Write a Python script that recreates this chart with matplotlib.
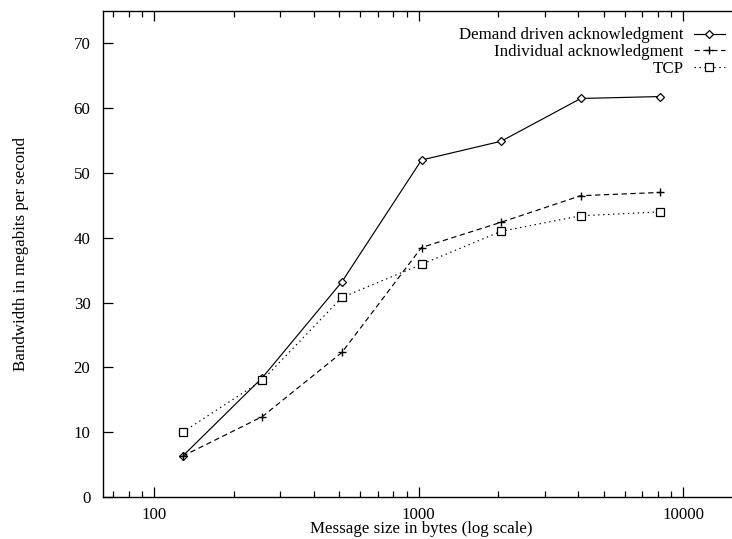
import matplotlib
matplotlib.use('Agg')
import matplotlib.pyplot as plt
from matplotlib.ticker import LogLocator, FixedLocator, NullFormatter

# message sizes in bytes
sizes = [128, 256, 512, 1024, 2048, 4096, 8192]

# bandwidth in megabits per second
demand_driven = [6.3, 18.4, 33.2, 52.0, 54.9, 61.5, 61.8]
individual = [6.3, 12.4, 22.3, 38.5, 42.4, 46.5, 47.0]
tcp = [10.0, 18.0, 30.8, 35.9, 41.0, 43.4, 44.0]

labels = ['Demand driven acknowledgment', 'Individual acknowledgment', 'TCP']
yticks = [0, 10, 20, 30, 40, 50, 60, 70]
xticks = [100, 1000, 10000]

plt.rcParams['font.family'] = ['Liberation Serif', 'DejaVu Serif']
plt.rcParams['font.size'] = 12.2


def main():
    fig = plt.figure(figsize=(7.32, 5.39), dpi=100)
    # the right edge of the frame falls just outside the picture
    ax = fig.add_axes([103 / 732, 42 / 539, 637 / 732, 486 / 539])

    lw = 0.85
    ax.plot(sizes, demand_driven, color='black', lw=lw, ls='-',
            marker='D', markersize=4.2, mfc='white', mec='black', mew=0.9,
            label=labels[0])
    ax.plot(sizes, individual, color='black', lw=lw, ls=(0, (4.5, 3)),
            marker='+', markersize=6, mec='black', mew=1.0,
            label=labels[1])
    ax.plot(sizes, tcp, color='black', lw=lw, ls=(0, (1.2, 3)),
            marker='s', markersize=5.2, mfc='white', mec='black', mew=0.9,
            label=labels[2])

    ax.set_xscale('log')
    ax.set_xlim(64, 16384)
    ax.set_ylim(0, 75)

    ax.xaxis.set_major_locator(FixedLocator(xticks))
    ax.set_xticklabels([str(t) for t in xticks])
    ax.xaxis.set_minor_locator(LogLocator(base=10, subs=range(2, 10)))
    ax.xaxis.set_minor_formatter(NullFormatter())
    ax.set_yticks(yticks)

    ax.tick_params(which='both', direction='in', top=True, right=False,
                   color='black', width=0.9)
    ax.tick_params(which='major', length=7)
    ax.tick_params(which='minor', length=4)
    ax.tick_params(axis='y', pad=9)
    ax.tick_params(axis='x', pad=7)
    for s in ax.spines.values():
        s.set_linewidth(1.0)

    ax.set_xlabel('Message size in bytes (log scale)', labelpad=-1)
    ax.set_ylabel('Bandwidth in megabits per second', labelpad=32)

    ax.legend(loc='upper right', bbox_to_anchor=(725 / 732, 1 - 27.5 / 539),
              bbox_transform=fig.transFigure, frameon=False,
              markerfirst=False, numpoints=1, handlelength=1.85,
              handletextpad=0.6, labelspacing=0.05, borderpad=0,
              borderaxespad=0)

    fig.savefig('out.png', dpi=100)


if __name__ == '__main__':
    main()
